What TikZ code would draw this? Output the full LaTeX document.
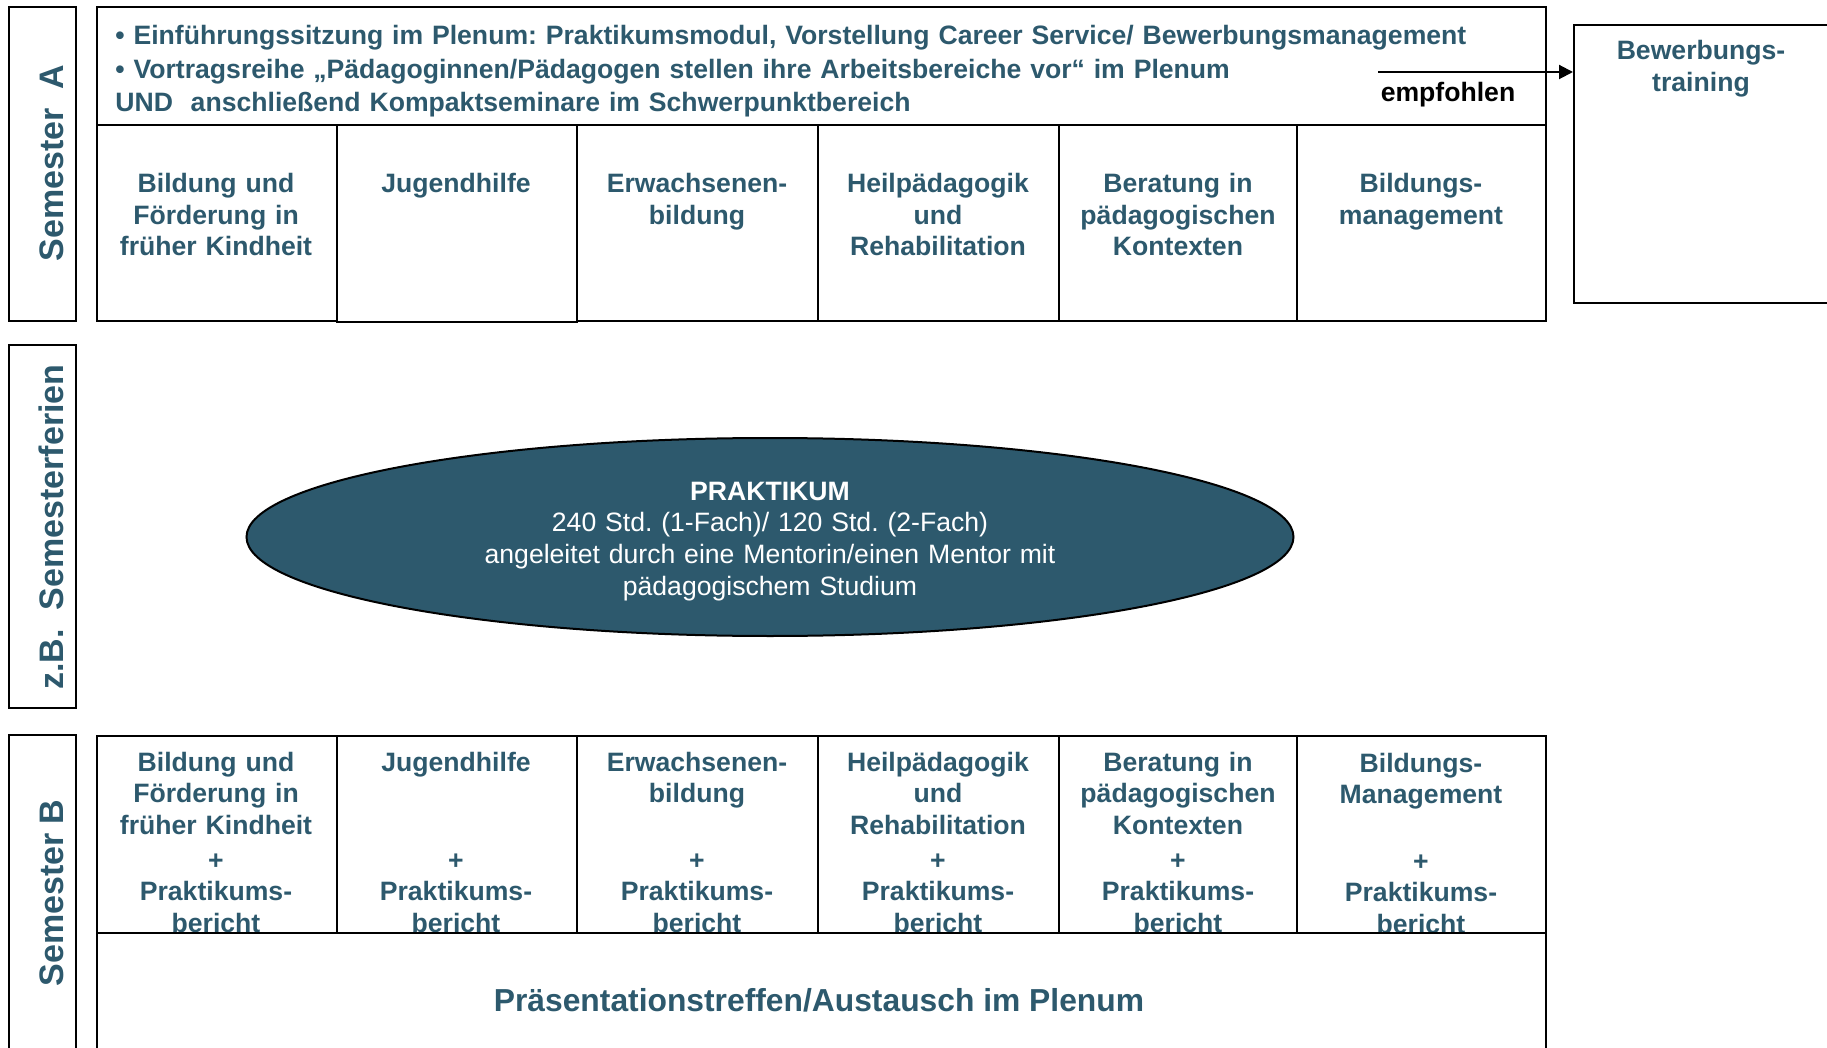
\documentclass[tikz,border=0pt]{standalone}
\usepackage{fontspec}
\setmainfont{Liberation Sans}
\usetikzlibrary{arrows.meta,shapes.geometric}
\definecolor{tealtxt}{HTML}{2D596D}
\definecolor{tealfill}{HTML}{2D596D}
\newcommand{\mycellfont}{\fontsize{13.3}{15.75}\selectfont\bfseries}
\frenchspacing
\begin{document}
\begin{tikzpicture}[x=0.5pt,y=-0.5pt,
  frame/.style={draw=black, line width=1pt, rectangle, inner sep=0pt, anchor=north west},
  celltxt/.style={text=tealtxt, font=\mycellfont, align=center, anchor=base, inner sep=0pt, text width=118pt},
  sidelabel/.style={text=tealtxt, font=\fontsize{17}{20}\selectfont\bfseries, rotate=90, anchor=base, inner sep=0pt},
]
\useasboundingbox (0,0) rectangle (1827,1048);
\clip (0,0) rectangle (1827,1048);

% side labels
\node[frame, minimum width=33.5pt, minimum height=157pt] (semAbox) at (8,6) {};
\node[sidelabel] (semA) at (63,163) {Semester\ \ A};
\node[frame, minimum width=33.5pt, minimum height=181.5pt] (ferbox) at (8,344) {};
\node[sidelabel] (fer) at (63,527) {z.B.\ \ Semesterferien};
\node[frame, minimum width=33.5pt, minimum height=170pt] (semBbox) at (8,734) {};
\node[sidelabel] (semB) at (63,893) {Semester B};

% top banner
\node[frame, minimum width=724.5pt, minimum height=59pt] (banner) at (96,6) {};
\node[text=tealtxt, font=\fontsize{13.3}{16.7}\selectfont\bfseries, align=left, anchor=base west, inner sep=0pt, text width=700pt] (bannertxt) at (115,45)
  {• Einführungssitzung im Plenum: Praktikumsmodul, Vorstellung Career Service/ Bewerbungsmanagement\\
   • Vortragsreihe „Pädagoginnen/Pädagogen stellen ihre Arbeitsbereiche vor“ im Plenum\\
   UND\ \ anschließend Kompaktseminare im Schwerpunktbereich};
\node[font=\mycellfont, text=black, anchor=base, inner sep=0pt] (empf) at (1448,102) {empfohlen};

% Bewerbungstraining
\node[frame, minimum width=129.5pt, minimum height=139pt] (bew) at (1573,24) {};
\node[celltxt] (bewtxt) at (1701,60) {Bewerbungs-\\training};
\coordinate (arrs) at (1378,72);
\draw[line width=1pt, -{Triangle[length=7pt,width=7pt]}] (arrs) -- (arrs -| bew.west);

% top row cells
\node[frame, minimum width=120pt, minimum height=98pt] (t1) at (96,124) {};
\node[frame, minimum width=120pt, minimum height=98.5pt, line width=1.2pt] (t2) at (336,124) {};
\node[frame, minimum width=120.5pt, minimum height=98pt] (t3) at (576,124) {};
\node[frame, minimum width=120.5pt, minimum height=98pt] (t4) at (817,124) {};
\node[frame, minimum width=119pt, minimum height=98pt] (t5) at (1058,124) {};
\node[frame, minimum width=124.5pt, minimum height=98pt] (t6) at (1296,124) {};

\node[celltxt] (tt1) at (216,193) {Bildung und\\Förderung in\\früher Kindheit};
\node[celltxt] (tt2) at (456,193) {Jugendhilfe};
\node[celltxt] (tt3) at (697,193) {Erwachsenen-\\bildung};
\node[celltxt] (tt4) at (938,193) {Heilpädagogik\\und\\Rehabilitation};
\node[celltxt] (tt5) at (1178,193) {Beratung in\\pädagogischen\\Kontexten};
\node[celltxt] (tt6) at (1421,193) {Bildungs-\\management};

% Praktikum ellipse
\node[ellipse, draw=black, line width=1pt, fill=tealfill, minimum width=523.5pt, minimum height=99pt, inner sep=0pt] (prak) at (770,537) {};
\node[text=white, font=\fontsize{13.3}{15.85}\selectfont, align=center, anchor=base, inner sep=0pt, text width=320pt] (praktxt) at (770,500)
  {\textbf{PRAKTIKUM}\\240 Std. (1-Fach)/ 120 Std. (2-Fach)\\angeleitet durch eine Mentorin/einen Mentor mit\\pädagogischem Studium};

% bottom row cells
\node[frame, minimum width=120pt, minimum height=98.5pt] (b1) at (96,735) {};
\node[frame, minimum width=120pt, minimum height=98.5pt] (b2) at (336,735) {};
\node[frame, minimum width=120.5pt, minimum height=98.5pt] (b3) at (576,735) {};
\node[frame, minimum width=120.5pt, minimum height=98.5pt] (b4) at (817,735) {};
\node[frame, minimum width=119pt, minimum height=98.5pt] (b5) at (1058,735) {};
\node[frame, minimum width=124.5pt, minimum height=98.5pt] (b6) at (1296,735) {};

\node[celltxt] (bt1) at (216,771) {Bildung und\\Förderung in\\früher Kindheit\\[1.75pt]+\\Praktikums-\\bericht};
\node[celltxt] (bt2) at (456,771) {Jugendhilfe\\~\\~\\[1.75pt]+\\Praktikums-\\bericht};
\node[celltxt] (bt3) at (697,771) {Erwachsenen-\\bildung\\~\\[1.75pt]+\\Praktikums-\\bericht};
\node[celltxt] (bt4) at (938,771) {Heilpädagogik\\und\\Rehabilitation\\[1.75pt]+\\Praktikums-\\bericht};
\node[celltxt] (bt5) at (1178,771) {Beratung in\\pädagogischen\\Kontexten\\[1.75pt]+\\Praktikums-\\bericht};
\node[celltxt] (bt6) at (1421,772) {Bildungs-\\Management\\~\\[1.75pt]+\\Praktikums-\\bericht};

% presentation box
\node[frame, minimum width=724.5pt, minimum height=70pt] (pres) at (96,932) {};
\node[text=tealtxt, font=\fontsize{15.9}{19}\selectfont\bfseries, anchor=base, inner sep=0pt] (prestxt) at (819,1011) {Präsentationstreffen/Austausch im Plenum};
\end{tikzpicture}
\end{document}
